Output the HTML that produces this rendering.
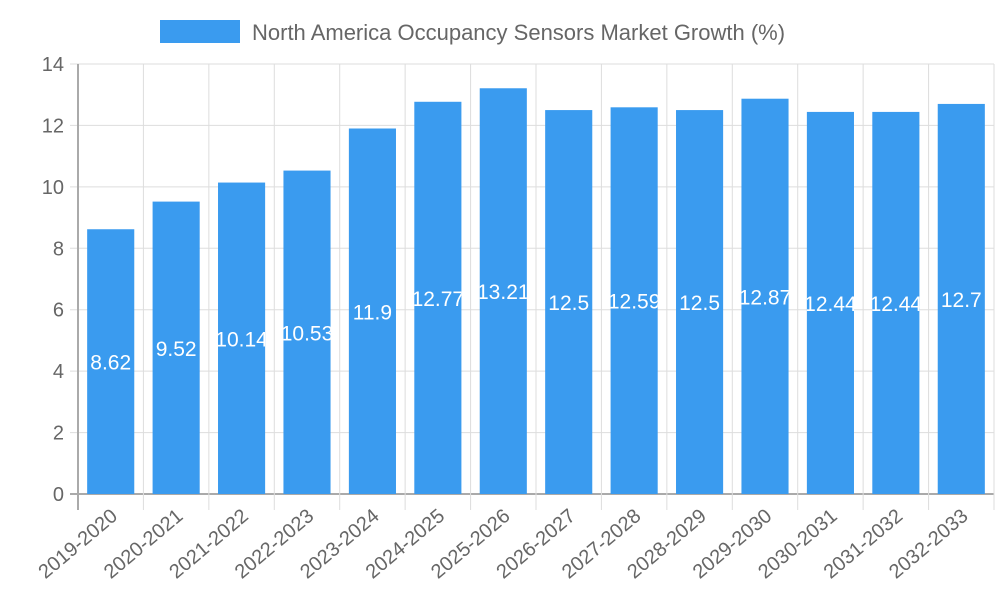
<!DOCTYPE html>
<html><head><meta charset="utf-8"><style>
body{margin:0;background:#fff;}
svg text{font-family:"Liberation Sans",sans-serif;}
</style></head><body>
<svg id="chart" width="1000" height="600">
<rect x="160" y="20" width="80" height="23" fill="#3a9bef"/>
<text x="252" y="40" font-size="22" fill="#666">North America Occupancy Sensors Market Growth (%)</text>
<g id="grid"></g><g id="bars"></g>
</svg>
<script>
const categories=["2019-2020","2020-2021","2021-2022","2022-2023","2023-2024","2024-2025","2025-2026","2026-2027","2027-2028","2028-2029","2029-2030","2030-2031","2031-2032","2032-2033"];
const values=[8.62,9.52,10.14,10.53,11.9,12.77,13.21,12.5,12.59,12.5,12.87,12.44,12.44,12.7];
const yTicks=[0,2,4,6,8,10,12,14];
const NS="http://www.w3.org/2000/svg";
const L=78,R=994,T=64,B=494,yMax=14;
const step=(R-L)/categories.length;
function y(v){return B-(v/yMax)*(B-T);}
function x(i){return L+step*i;}
const svg=document.getElementById('chart'),grid=document.getElementById('grid'),bars=document.getElementById('bars');
function mk(tag,attrs,parent){const e=document.createElementNS(NS,tag);for(const k in attrs)e.setAttribute(k,attrs[k]);parent.appendChild(e);return e;}
yTicks.forEach(t=>{
 const l=mk('line',{x1:L-8,x2:R,y1:y(t),y2:y(t),stroke:t===0?'#aaa':'#ddd','stroke-width':t===0?2:1},grid);
 
 
 const tx=mk('text',{x:L-14,y:y(t)+7,'text-anchor':'end','font-size':20,fill:'#666'},grid);
 tx.textContent=t;
 
 
});
for(let i=0;i<=categories.length;i++){
 const l=mk('line',{x1:x(i),x2:x(i),y1:T,y2:B+16,stroke:i===0?'#aaa':'#ddd','stroke-width':i===0?2:1},grid);
 
 
}
const defs=mk('defs',{},svg);
const bw=step*0.72;
categories.forEach((c,i)=>{
 const bx=x(i)+(step-bw)/2, by=y(values[i]);
 const r=mk('rect',{x:bx,y:by,width:bw,height:B-by,fill:'#3a9bef'},bars);
 
 
 const cp=mk('clipPath',{id:'c'+i},defs);
 mk('rect',{x:bx,y:by,width:bw,height:B-by},cp);
 const t=mk('text',{x:bx+bw/2,y:(by+B)/2+8,'text-anchor':'middle','font-size':21,fill:'#fff','clip-path':'url(#c'+i+')'},bars);
 t.textContent=values[i];
 
 
 const cx=x(i)+step/2;
 const xl=mk('text',{x:cx+8,y:B+24,'text-anchor':'end','font-size':20,fill:'#666',transform:'rotate(-40 '+(cx+8)+' '+(B+24)+')'},bars);
 xl.textContent=c;
 
 
});
</script>
</body></html>
